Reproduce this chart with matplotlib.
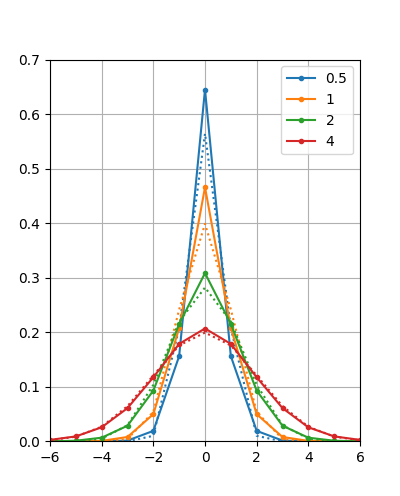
import matplotlib
matplotlib.use("Agg")
import matplotlib.pyplot as plt
import numpy as np

# integer positions
n = [-6, -5, -4, -3, -2, -1, 0, 1, 2, 3, 4, 5, 6]
labels = ['0.5', '1', '2', '4']

# discrete kernel values (solid, with markers), half side 0..6
disc_half = {
    '0.5': [0.6450, 0.1564, 0.01935, 0.00161, 0.0001, 0.0, 0.0],
    '1': [0.4658, 0.2079, 0.04994, 0.00816, 0.00101, 0.0001, 0.0],
    '2': [0.3085, 0.2153, 0.0932, 0.0288, 0.00687, 0.00133, 0.00022],
    '4': [0.2070, 0.1788, 0.1176, 0.0611, 0.0259, 0.00924, 0.00283],
}

# sampled continuous curve values (dotted), half side 0..6
samp_half = {
    '0.5': [0.5642, 0.2076, 0.01033, 0.00007, 0.0, 0.0, 0.0],
    '1': [0.3989, 0.2420, 0.05399, 0.004432, 0.000134, 0.0, 0.0],
    '2': [0.2821, 0.2197, 0.1038, 0.02973, 0.00517, 0.000546, 0.000035],
    '4': [0.19947, 0.17603, 0.12099, 0.06476, 0.02700, 0.008764, 0.002216],
}


def mirror(half):
    return half[:0:-1] + half


colors = ['tab:blue', 'tab:orange', 'tab:green', 'tab:red']

fig, ax = plt.subplots(figsize=(4, 4.96), dpi=100)
for lab, c in zip(labels, colors):
    ax.plot(n, mirror(disc_half[lab]), marker='.', color=c, label=lab)
    ax.plot(n, mirror(samp_half[lab]), ':', color=c)

ax.set_xlim(-6, 6)
ax.set_ylim(0, 0.7)
ax.grid(True)
ax.legend(loc='upper right')

fig.savefig('out.png')
